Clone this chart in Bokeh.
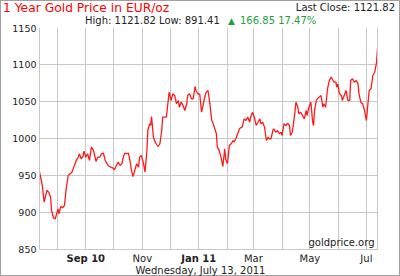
import pandas as pd
from bokeh.plotting import figure
from bokeh.layouts import column
from bokeh.models import Range1d, FixedTicker, LinearAxis, Label, Div
from bokeh.embed import file_html
from bokeh.resources import INLINE

# ---------------- data ----------------
start_date = "2010-07-13"
end_date = "2011-07-13"
days = [0, 3, 5, 8, 10, 12, 13, 15, 17, 19, 20, 21, 23, 25, 27, 29, 31, 33, 35, 37, 39, 40, 42, 43, 45, 47, 48, 50, 52, 54, 56, 58, 59, 61, 63,
        65, 67, 69, 71, 72, 74, 77, 79, 81, 83, 85, 87, 89, 90, 92, 94, 96, 98, 99, 101, 103, 105, 107, 108, 110, 112, 114, 116, 117, 119, 120, 121, 123, 125,
        126, 128, 130, 132, 133, 134, 137, 140, 141, 142, 144, 146, 148, 150, 151, 153, 155, 157, 159, 160, 162, 164, 166, 168, 169, 171, 173, 175, 177, 178, 180, 182, 184, 186, 187,
        191, 192, 194, 196, 198, 200, 201, 203, 205, 207, 209, 210, 212, 214, 216, 218, 219, 221, 223, 225, 227, 228, 230, 232, 234, 236, 238, 239, 241, 243, 245, 247, 248, 250,
        252, 253, 255, 257, 259, 261, 262, 264, 266, 268, 270, 271, 273, 275, 277, 279, 280, 282, 284, 286, 288, 289, 291, 293, 295, 296, 297, 299, 300, 302, 304, 306, 307, 309,
        311, 313, 315, 317, 318, 320, 321, 322, 324, 326, 327, 329, 331, 333, 335, 336, 338, 340, 342, 344, 345, 347, 349, 351, 353, 354, 356, 358, 360, 362, 364, 365]
prices = [954.97, 936.5, 914, 929.8, 927.5, 920.7, 902.8, 892.9, 891.41, 900.5, 905, 898.3, 908.2, 906.4, 909.6, 934, 950, 952.3, 954.5, 961.3, 968, 971.2, 974.8, 979.4, 972.6, 975.7, 982.9, 974.8, 979.4, 970.3, 988.3, 984.8, 980.2, 969, 974.8,
          974.8, 979.4, 980.2, 970.3, 968, 963.5, 961.3, 960.4, 957.7, 963.5, 968, 963.5, 965.8, 972.6, 980.2, 979.4, 980.2, 968, 959, 948.6, 957.7, 965.8, 961.3, 974.8, 977, 968, 954.5, 983.9, 1010.8, 1019.9, 1017.6, 1029.7, 1001.8, 995,
          992.9, 989.2, 992.9, 1010.8, 1028.8, 1028.8, 1028.8, 1062.6, 1058.1, 1051.4, 1060.4, 1058.1, 1046.9, 1051.4, 1042.3, 1049.1, 1044.6, 1037.9, 1046.9, 1058.1, 1060.4, 1053.7, 1053.7, 1070.3, 1064.9, 1060.4, 1060.4, 1035.6, 1046.9, 1053.7, 1062.6, 1064.9, 1046.9, 1024.3, 1022,
          1006.4, 988.3, 983.9, 974.8, 962.2, 986.1, 972.6, 965.8, 990.6, 992.9, 997.3, 995, 999.6, 1006.4, 1013.1, 1015.3, 1015.3, 1026.6, 1024.3, 1028.8, 1022, 1028.8, 1035.6, 1028.8, 1017.6, 1022, 1026.6, 1019.9, 1022, 1015.3, 997.3, 1001.8, 999.6, 999.6,
          1010.8, 1013.1, 1008.5, 1010.8, 1006.4, 1008.5, 1004.1, 1019.9, 1017.6, 1020.7, 1017.6, 1004.1, 1008.5, 1026.6, 1049.1, 1042.3, 1033.4, 1035.6, 1031.1, 1026.6, 1037.9, 1031.1, 1042.3, 1049.1, 1022, 1017.6, 1037.9, 1051.4, 1053.7, 1055.9, 1058.1, 1042.3, 1046.9, 1042.3,
          1067.2, 1078.4, 1082.9, 1078.4, 1076.1, 1076.1, 1069.3, 1073.9, 1060.4, 1058.1, 1051.4, 1058.1, 1064.9, 1051.4, 1051.4, 1078.4, 1080.7, 1076.1, 1078.4, 1073.9, 1060.4, 1049.1, 1046.9, 1037.9, 1024.3, 1037.9, 1064.9, 1067.2, 1085.1, 1089.6, 1103.1, 1121.82]

title_text = "1 Year Gold Price in EUR/oz"
last_close = "1121.82"
high = "1121.82"
low = "891.41"
change = "166.85"
change_pct = "17.47%"
report_date = "Wednesday, July 13, 2011"
source_text = "goldprice.org"
y_ticks = [850, 900, 950, 1000, 1050, 1100, 1150]
month_ticks = ["2010-08-01", "2010-09-01", "2010-10-01", "2010-11-01", "2010-12-01", "2011-01-01",
               "2011-02-01", "2011-03-01", "2011-04-01", "2011-05-01", "2011-06-01", "2011-07-01"]
x_label_dates = ["2010-09-01", "2010-11-01", "2011-01-01", "2011-03-01", "2011-05-01", "2011-07-01"]
x_label_texts = ["Sep 10", "Nov", "Jan 11", "Mar", "May", "Jul"]
x_label_bold = [True, False, True, False, False, False]

# ---------------- build ----------------
def ms(s):
    return pd.Timestamp(s).value / 1e6

dates = pd.to_datetime(start_date) + pd.to_timedelta(days, unit="D")
month_ms = [ms(d) for d in month_ticks]

FONT = "DejaVu Sans"
GRID = "#c8c8c8"
DARK = "#222222"
GREEN = "#1e9e3e"
W = 400
HEAD_H, MAIN_H, FOOT_H = 24, 230, 22
FL, FR = 39, 23          # frame margins left / right
MAIN_TOP, MAIN_BOTTOM = 3, 5

# ---- header (HTML text above the chart) ----
def span(text, pos, top, size, color, lh=14):
    return (f'<span style="position:absolute;{pos};top:{top}px;font-size:{size}px;'
            f'line-height:{lh}px;color:{color};white-space:nowrap;">{text}</span>')

head_html = (
    f'<div style="position:relative;width:{W}px;height:{HEAD_H}px;font-family:\'{FONT}\';">'
    + span(title_text, "left:3px", 0, 12.3, "#ff0000", lh=16)
    + span("Last Close: " + last_close, "right:5px", 1, 10, DARK)
    + span("High: " + high + " Low: " + low, "left:85px", 13.5, 10, DARK)
    + span("\u25B2", "left:228px", 13.5, 9, GREEN)
    + span(change + " " + change_pct, "left:240px", 13.5, 10, GREEN)
    + '</div>'
)
head = Div(text=head_html, width=W, height=HEAD_H, margin=0,
           styles={"overflow": "visible"})

def htext(fig, x, y, text, size="10px", color=DARK, align="left", style="normal",
          x_units="screen"):
    fig.add_layout(Label(x=x, y=y, x_units=x_units, y_units="screen",
                         text=text, text_font=FONT, text_font_size=size,
                         text_color=color, text_align=align, text_baseline="middle",
                         text_font_style=style))

# ---- main chart ----
p = figure(width=W, height=MAIN_H, x_axis_type="datetime", output_backend="svg",
           toolbar_location=None,
           x_range=Range1d(ms(start_date), ms(end_date)), y_range=Range1d(y_ticks[0], y_ticks[-1]),
           min_border_left=FL, min_border_right=FR, min_border_top=MAIN_TOP,
           min_border_bottom=MAIN_BOTTOM)
p.outline_line_color = None
p.border_fill_color = None
p.background_fill_color = "white"

p.yaxis.ticker = FixedTicker(ticks=y_ticks)
p.yaxis.major_label_text_font = FONT
p.yaxis.major_label_text_font_size = "9.5px"
p.yaxis.major_label_text_color = DARK
p.yaxis.major_label_standoff = 3
p.yaxis.major_tick_out = 0
p.yaxis.major_tick_in = 0
p.yaxis.minor_tick_out = 0
p.yaxis.minor_tick_in = 0
p.yaxis.axis_line_color = GRID

p.xaxis.ticker = FixedTicker(ticks=[])
p.xaxis.major_label_standoff = 0
p.xaxis.major_tick_out = 0
p.xaxis.major_tick_in = 0
p.xaxis.minor_tick_out = 0
p.xaxis.minor_tick_in = 0
p.xaxis.axis_line_color = GRID

ra = LinearAxis(ticker=FixedTicker(ticks=[]), major_label_standoff=0,
                major_tick_out=0, major_tick_in=0, minor_tick_out=0, minor_tick_in=0,
                axis_line_color=GRID)
p.add_layout(ra, "right")

p.ygrid.ticker = FixedTicker(ticks=y_ticks[1:-1])
p.xgrid.ticker = FixedTicker(ticks=month_ms)
p.ygrid.grid_line_color = GRID
p.xgrid.grid_line_color = GRID

p.line(dates, prices, line_color="#ff1a1a", line_width=1.3)

# source text inside the plot area (frame-relative screen units)
htext(p, 335, 7, source_text, align="right")

# ---- footer: month labels (shared x scale) and the date ----
foot = figure(width=W, height=FOOT_H, x_range=p.x_range, y_range=Range1d(0, FOOT_H),
              x_axis_location=None, y_axis_location=None, toolbar_location=None,
              output_backend="svg", min_border_left=FL, min_border_right=FR,
              min_border_top=0, min_border_bottom=0)
foot.outline_line_color = None
foot.border_fill_color = None
foot.background_fill_color = None
foot.xgrid.visible = False
foot.ygrid.visible = False

for d, t, b in zip(x_label_dates, x_label_texts, x_label_bold):
    htext(foot, ms(d), FOOT_H - 4, t, align="center",
          style="bold" if b else "normal", x_units="data")
htext(foot, 200 - FL, FOOT_H - 15.5, report_date, align="center")

layout = column(head, p, foot, spacing=0)
layout.styles = {"box-shadow": "inset 0 0 0 1px #a0a0a0"}

open("out.html", "w").write(file_html(layout, INLINE))
